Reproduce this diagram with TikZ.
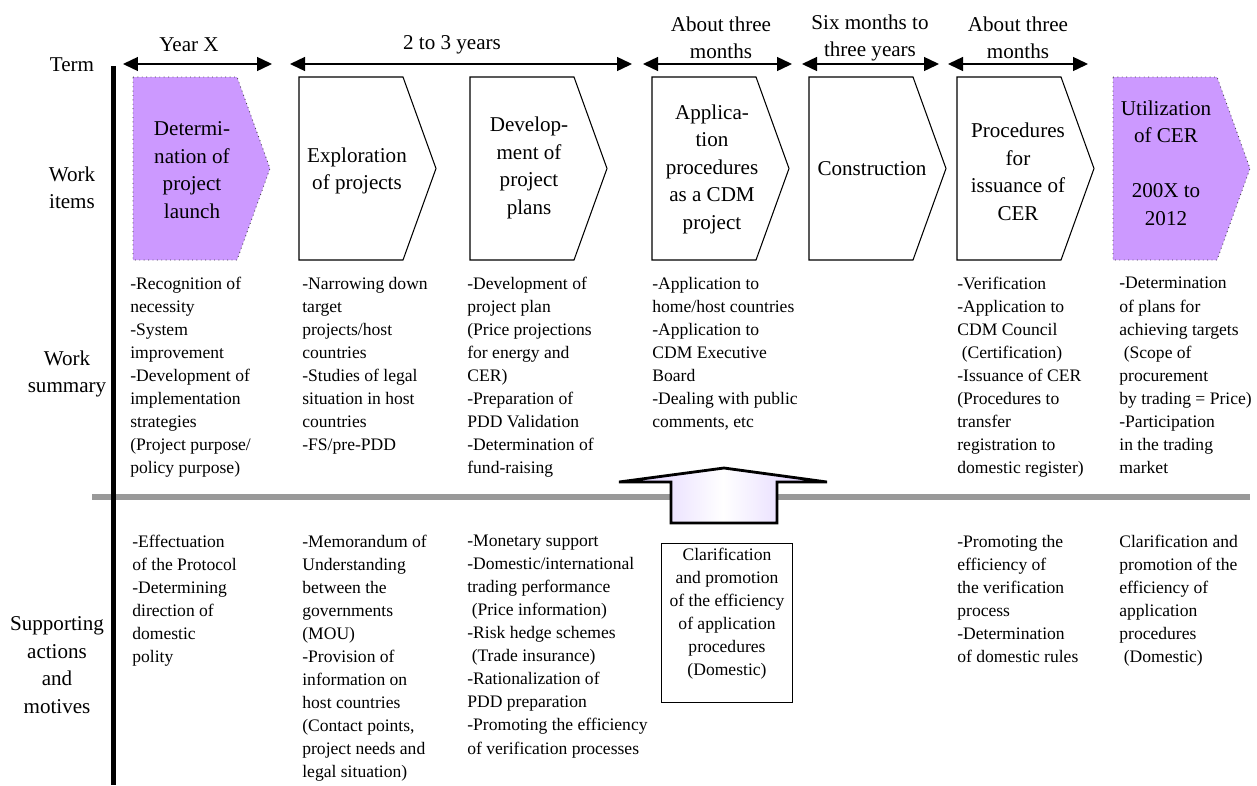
\documentclass[tikz,border=0pt]{standalone}
\usepackage{fontspec}
\setmainfont{Liberation Serif}
\usetikzlibrary{arrows.meta}

\definecolor{cerpurple}{RGB}{204,153,255}
\definecolor{arrowlav}{RGB}{218,200,255}
\definecolor{rulegray}{RGB}{153,153,153}

\begin{document}
\begin{tikzpicture}[x=0.02cm,y=-0.02cm,
    big/.style={font=\fontsize{12}{15.65}\selectfont, align=center, inner sep=0pt},
    summ/.style={font=\fontsize{10}{13.1}\selectfont, align=left, anchor=north west, inner sep=0pt},
    plainbox/.style={draw=black, line width=0.6pt, fill=white},
    cerbox/.style={draw=black!75, line width=0.5pt, dotted, fill=cerpurple},
    termspan/.style={{Triangle[length=0.3cm,width=0.28cm]}-{Triangle[length=0.3cm,width=0.28cm]}, line width=0.8pt}]
  \pgfmathsetmacro{\shtop}{77}
  \pgfmathsetmacro{\shbot}{260}
  \pgfmathsetmacro{\shmid}{168.5}
  \pgfmathsetmacro{\bw}{104}
  \pgfmathsetmacro{\tw}{33}

  \useasboundingbox (0,0) rectangle (1257,785);

  % rules
  \draw[rulegray, line width=0.12cm] (92,497) -- (1250,497);
  \draw[line width=0.1cm] (113,66) -- (113,785);

  % row labels
  \node[big] (term) at (72,65) {Term};
  \node[big] (items) at (72,188) {Work\\items};
  \node[big] (summary) at (67,374) {Work\\summary};
  \node[big] (support) at (57,665) {Supporting\\actions\\and\\motives};

  % term arrows
  \coordinate (t1a) at (123,64);  \coordinate (t1b) at (272,64);
  \coordinate (t2a) at (290,64);  \coordinate (t2b) at (632,64);
  \coordinate (t3a) at (643,64);  \coordinate (t3b) at (792,64);
  \coordinate (t4a) at (802,64);  \coordinate (t4b) at (939,64);
  \coordinate (t5a) at (948,64);  \coordinate (t5b) at (1088,64);
  \foreach \i in {1,...,5}
    \draw[termspan] (t\i a) -- (t\i b);

  \node[big] (yearx) at (189,45) {Year X};
  \node[big] (twothree) at (452,45) {2 to 3 years};
  \node[big] (threemA) at (721,38) {About three\\months};
  \node[big] (sixm) at (870,38) {Six months to\\three years};
  \node[big] (threemB) at (1018,38) {About three\\months};

  % work items
  \foreach \x/\s in {133/cerbox,299/plainbox,470/plainbox,652/plainbox,809/plainbox,957/plainbox,1113/cerbox}
    \draw[\s] (\x,\shtop) -- (\x+\bw,\shtop) -- (\x+\bw+\tw,\shmid) -- (\x+\bw,\shbot) -- (\x,\shbot) -- cycle;

  \node[big] (launch) at (192,170) {Determi-\\nation of\\project\\launch};
  \node[big] (explore) at (357,171) {Exploration\\of projects};
  \node[big] (plans) at (529,168) {Develop-\\ment of\\project\\plans};
  \node[big] (apply) at (712,169) {Applica-\\tion\\procedures\\as a CDM\\project};
  \node[big] (build) at (872,169) {Construction};
  \node[big] (issue) at (1018,172) {Procedures\\for\\issuance of\\CER};
  \node[big] (use) at (1166,163) {Utilization\\of CER\\[15.65pt]200X to\\2012};

  % work summary
  \node[summ] (ws1) at (130,277) {-Recognition of\\necessity\\-System\\improvement\\-Development of\\implementation\\strategies\\(Project purpose/\\policy purpose)};
  \node[summ] (ws2) at (302,277) {-Narrowing down\\target\\projects/host\\countries\\-Studies of legal\\situation in host\\countries\\-FS/pre-PDD};
  \node[summ] (ws3) at (467,277) {-Development of\\project plan\\(Price projections\\for energy and\\CER)\\-Preparation of\\PDD Validation\\-Determination of\\fund-raising};
  \node[summ] (ws4) at (652,277) {-Application to\\home/host countries\\-Application to\\CDM Executive\\Board\\-Dealing with public\\comments, etc};
  \node[summ] (ws6) at (957,277) {-Verification\\-Application to\\CDM Council\\\ (Certification)\\-Issuance of CER\\(Procedures to\\transfer\\registration to\\domestic register)};
  \node[summ] (ws7) at (1119,277) {-Determination\\of plans for\\achieving targets\\\ (Scope of\\procurement\\by trading = Price)\\-Participation\\in the trading\\market};

  % supporting actions
  \draw[line width=1.6pt, left color=arrowlav, right color=arrowlav, middle color=white]
    (671,523) -- (671,482) -- (619,482) -- (724,468) -- (827,482) -- (777,482) -- (777,523) -- cycle;

  \node[summ] (sa1) at (132,535) {-Effectuation\\of the Protocol\\-Determining\\direction of\\domestic\\polity};
  \node[summ] (sa2) at (302,535) {-Memorandum of\\Understanding\\between the\\governments\\(MOU)\\-Provision of\\information on\\host countries\\(Contact points,\\project needs and\\legal situation)};
  \node[summ] (sa3) at (467,535) {-Monetary support\\-Domestic/international\\trading performance\\\ (Price information)\\-Risk hedge schemes\\\ (Trade insurance)\\-Rationalization of\\PDD preparation\\-Promoting the efficiency\\of verification processes};
  \node[draw, line width=0.8pt, minimum width=2.62cm, minimum height=3.18cm, anchor=north west, inner sep=0pt] (clarbox) at (661,543) {};
  \node[summ, align=center, anchor=north] (clartext) at (727,548) {Clarification\\and promotion\\of the efficiency\\of application\\procedures\\(Domestic)};
  \node[summ] (sa6) at (957,535) {-Promoting the\\efficiency of\\the verification\\process\\-Determination\\of domestic rules};
  \node[summ] (sa7) at (1119,535) {Clarification and\\promotion of the\\efficiency of\\application\\procedures\\\ (Domestic)};
\end{tikzpicture}
\end{document}
